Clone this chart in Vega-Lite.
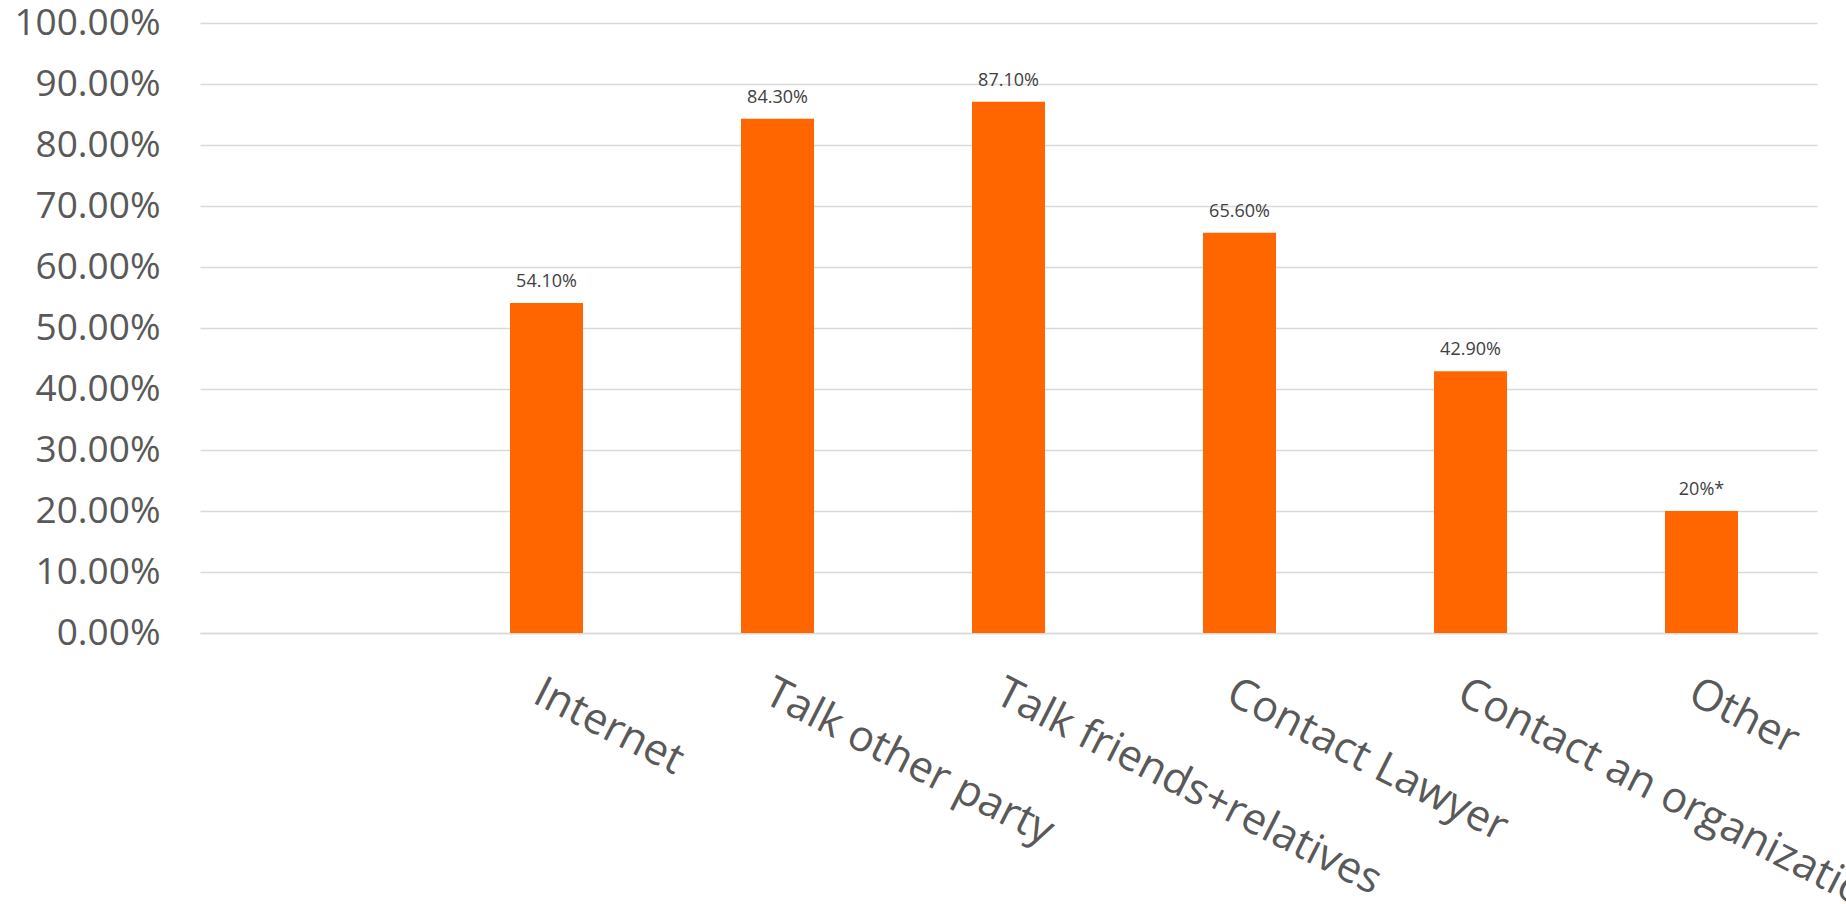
{
  "$schema": "https://vega.github.io/schema/vega-lite/v6.json",
  "width": 1617,
  "height": 610,
  "autosize": {"type": "none"},
  "padding": {"left": 200, "top": 23, "right": 29, "bottom": 271},
  "background": "white",
  "config": {"view": {"stroke": null}, "font": "Open Sans"},
  "data": {
    "values": [
      {"category": "", "value": null, "label": ""},
      {"category": "Internet", "value": 0.541, "label": "54.10%"},
      {"category": "Talk other party", "value": 0.843, "label": "84.30%"},
      {"category": "Talk friends+relatives", "value": 0.871, "label": "87.10%"},
      {"category": "Contact Lawyer", "value": 0.656, "label": "65.60%"},
      {"category": "Contact an organization", "value": 0.429, "label": "42.90%"},
      {"category": "Other", "value": 0.2, "label": "20%*"}
    ]
  },
  "encoding": {
    "x": {
      "field": "category",
      "type": "nominal",
      "sort": null,
      "scale": {"domain": ["", "Internet", "Talk other party", "Talk friends+relatives", "Contact Lawyer", "Contact an organization", "Other"], "paddingInner": 0.684, "paddingOuter": 0.342},
      "axis": {
        "title": null,
        "labelAngle": 27,
        "labelAlign": "left",
        "labelBaseline": "top",
        "labelFontSize": 43,
        "labelColor": "#595959",
        "labelPadding": 38,
        "labelDx": 8,
        "labelLimit": 0,
        "labelOverlap": false,
        "ticks": false,
        "domain": true,
        "domainColor": "#d9d9d9",
        "domainWidth": 1.5,
        "grid": false
      }
    },
    "y": {
      "field": "value",
      "type": "quantitative",
      "scale": {"domain": [0, 1], "nice": false},
      "axis": {
        "title": null,
        "format": ".2%",
        "values": [0, 0.1, 0.2, 0.3, 0.4, 0.5, 0.6, 0.7, 0.8, 0.9, 1.0],
        "labelFontSize": 37,
        "labelColor": "#595959",
        "labelPadding": 40,
        "ticks": false,
        "domain": false,
        "grid": true,
        "gridColor": "#d9d9d9",
        "gridWidth": 1.5
      }
    }
  },
  "layer": [
    {"mark": {"type": "bar", "color": "#FF6600"}},
    {
      "mark": {"type": "text", "baseline": "bottom", "align": "center", "dy": -12, "fontSize": 18, "color": "#404040"},
      "encoding": {"text": {"field": "label"}}
    }
  ]
}
